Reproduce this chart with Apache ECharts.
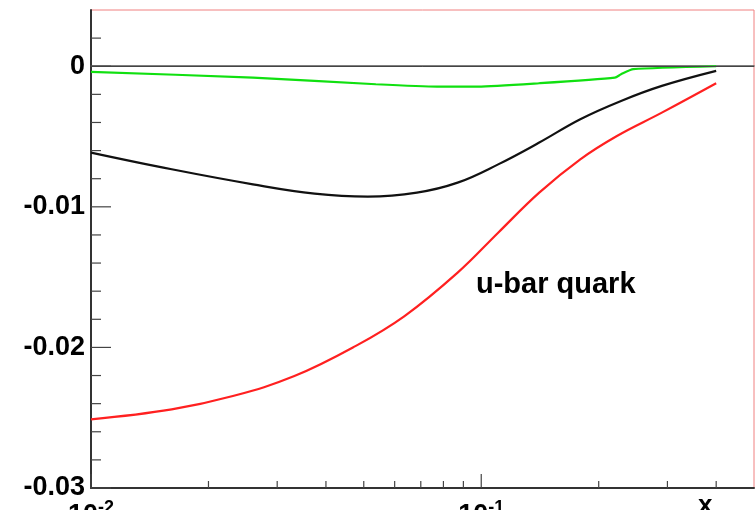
<!DOCTYPE html>
<html>
<head>
<meta charset="utf-8">
<script src="https://cdn.jsdelivr.net/npm/echarts@6/dist/echarts.min.js"></script>
<style>
  html, body { margin: 0; padding: 0; background: #fff; }
  #chart { width: 755px; height: 510px; }
</style>
</head>
<body>
<div id="chart"></div>
<script>
// Momentum fraction x (log scale) and the three shifts for the u-bar quark
const xBlack = [0.01, 0.0161, 0.026, 0.0374, 0.0512, 0.0684, 0.087, 0.1105, 0.1408, 0.1794, 0.2282, 0.2903, 0.4];
const yBlack = [-0.00614, -0.00733, -0.00840, -0.00906, -0.00927, -0.00899, -0.00828, -0.00698, -0.00543, -0.00377, -0.00247, -0.00140, -0.00033];

const xRed = [0.01, 0.0161, 0.0231, 0.0332, 0.0476, 0.0636, 0.087, 0.1105, 0.1408, 0.1794, 0.2227, 0.2903, 0.4];
const yRed = [-0.02512, -0.02441, -0.02346, -0.02204, -0.01991, -0.01777, -0.01468, -0.01184, -0.00899, -0.00662, -0.00496, -0.00330, -0.00121];

const xGreen = [0.01, 0.026, 0.0537, 0.0771, 0.0981, 0.1408, 0.2200, 0.2282, 0.2453, 0.4];
const yGreen = [-0.00040, -0.00081, -0.00128, -0.00145, -0.00145, -0.00121, -0.00081, -0.00057, -0.00021, 0.0];

// Tick positions
const xMajorTicks = [0.01, 0.1];
const xMinorTicks = [0.02, 0.03, 0.04, 0.05, 0.06, 0.07, 0.08, 0.09, 0.2, 0.3, 0.4];
const yMajorTicks = [0, -0.01, -0.02, -0.03];
const yMinorTicks = [0.002, -0.002, -0.004, -0.006, -0.008, -0.012, -0.014, -0.016, -0.018,
                     -0.022, -0.024, -0.026, -0.028];

const X_MIN = 0.01, X_MAX = 0.5, Y_MIN = -0.03, Y_MAX = 0.004;
const FONT = '"Liberation Sans", Arial, Helvetica, sans-serif';

function pairs(xs, ys) { return xs.map((x, i) => [x, ys[i]]); }

// tick data: [x, y, length, direction(0 = vertical from bottom axis, 1 = horizontal from left axis)]
const tickData = []
  .concat(xMajorTicks.map(v => [v, Y_MIN, 14, 0]))
  .concat(xMinorTicks.map(v => [v, Y_MIN, 7, 0]))
  .concat(yMajorTicks.map(v => [X_MIN, v, 20, 1]))
  .concat(yMinorTicks.map(v => [X_MIN, v, 10, 1]));

const chart = echarts.init(document.getElementById('chart'), null, { renderer: 'canvas' });

chart.setOption({
  animation: false,
  backgroundColor: '#fff',
  grid: {
    left: 91, right: 1, top: 10, bottom: 22,
    containLabel: false, outerBoundsMode: 'none',
    show: true, borderColor: '#f08080', borderWidth: 1, backgroundColor: 'transparent'
  },
  xAxis: [{
    type: 'log', logBase: 10, min: X_MIN, max: X_MAX,
    axisLine: { show: true, onZero: false, lineStyle: { color: '#333', width: 2 } },
    axisTick: { show: false },
    splitLine: { show: false },
    minorTick: { show: false },
    axisLabel: {
      margin: 11,
      showMinLabel: true, showMaxLabel: false,
      formatter: function (v) {
        const e = Math.round(Math.log10(v));
        if (Math.abs(Math.log10(v) - e) > 1e-6) return '';
        return '{b|10}{s|' + e + '}';
      },
      rich: {
        b: { fontFamily: FONT, fontWeight: 'bold', fontSize: 27, color: '#000', verticalAlign: 'bottom' },
        s: { fontFamily: FONT, fontWeight: 'bold', fontSize: 18, color: '#000', verticalAlign: 'top', padding: [0, 0, 12, 0] }
      }
    }
  }, {
    type: 'log', logBase: 10, min: X_MIN, max: X_MAX, position: 'top',
    axisLine: { show: true, lineStyle: { color: '#555', width: 1.5 } },
    axisTick: { show: false }, axisLabel: { show: false }, splitLine: { show: false }
  }],
  yAxis: {
    type: 'value', min: Y_MIN, max: Y_MAX, interval: 0.01,
    axisLine: { show: true, onZero: false, lineStyle: { color: '#333', width: 2 } },
    axisTick: { show: false },
    splitLine: { show: false },
    axisLabel: {
      margin: 6, showMaxLabel: false,
      fontFamily: FONT, fontWeight: 'bold', fontSize: 27, color: '#000',
      formatter: function (v) {
        if (Math.abs(v * 100 - Math.round(v * 100)) > 1e-6) return '';
        const r = Math.round(v * 100) / 100;
        return r === 0 ? '0' : r.toFixed(2);
      }
    }
  },
  series: [
    {
      type: 'custom', silent: true, clip: false, z: 5,
      data: tickData,
      renderItem: function (params, api) {
        const p = api.coord([api.value(0), api.value(1)]);
        const len = api.value(2);
        const horiz = api.value(3) === 1;
        return {
          type: 'line',
          shape: horiz ? { x1: p[0], y1: p[1], x2: p[0] + len, y2: p[1] }
                       : { x1: p[0], y1: p[1], x2: p[0], y2: p[1] - len },
          style: { stroke: '#444', lineWidth: 1.2 }
        };
      }
    },
    {
      name: 'green', type: 'line', data: pairs(xGreen, yGreen), showSymbol: false, smooth: 0.2,
      lineStyle: { color: '#10e010', width: 2.2 }, z: 3,
      markLine: {
        silent: true, symbol: 'none', label: { show: false },
        lineStyle: { color: '#444', width: 1, type: 'solid' },
        data: [{ yAxis: 0 }]
      }
    },
    {
      name: 'black', type: 'line', data: pairs(xBlack, yBlack), showSymbol: false, smooth: 0.4,
      lineStyle: { color: '#111', width: 2.2 }, z: 3
    },
    {
      name: 'red', type: 'line', data: pairs(xRed, yRed), showSymbol: false, smooth: 0.4,
      lineStyle: { color: '#ff2020', width: 2.2 }, z: 3
    }
  ],
  graphic: [
    { type: 'text', left: 476, top: 270, style: { text: 'u-bar quark', font: 'bold 29px ' + FONT, fill: '#000' } },
    { type: 'text', left: 698, top: 493, style: { text: 'x', font: 'bold 26px ' + FONT, fill: '#000' } }
  ]
});
</script>
</body>
</html>
